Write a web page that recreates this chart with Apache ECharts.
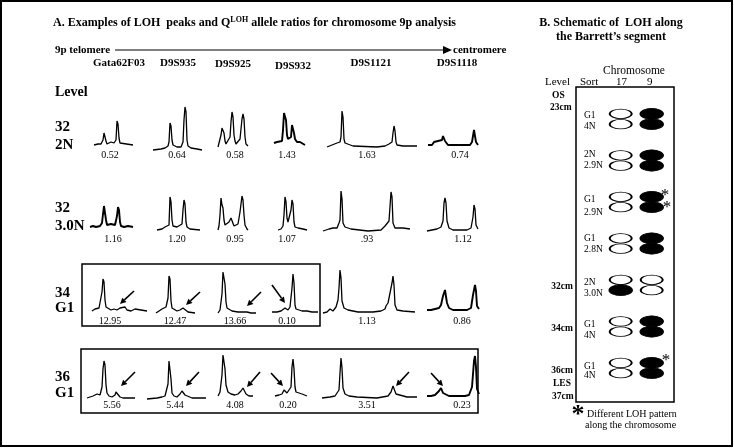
<!DOCTYPE html>
<html>
<head>
<meta charset="utf-8">
<script src="https://cdn.jsdelivr.net/npm/echarts@6/dist/echarts.min.js"></script>
<style>
html, body { margin: 0; padding: 0; background: #fff; }
#main { width: 734px; height: 448px; }
</style>
</head>
<body>
<div id="main"></div>
<script>
// markers along 9p, telomere -> centromere
var markers = ['Gata62F03', 'D9S935', 'D9S925', 'D9S932', 'D9S1121', 'D9S1118'];
var levels = [['32', '2N'], ['32', '3.0N'], ['34', 'G1'], ['36', 'G1']];

// Q(LOH) allele ratios printed under each trace
var ratios32_2N = ['0.52', '0.64', '0.58', '1.43', '1.63', '0.74'];
var ratios32_30N = ['1.16', '1.20', '0.95', '1.07', '.93', '1.12'];
var ratios34_G1 = ['12.95', '12.47', '13.66', '0.10', '1.13', '0.86'];
var ratios36_G1 = ['5.56', '5.44', '4.08', '0.20', '3.51', '0.23'];

// peak traces, [scan position, signal]
var peaks32_2N = [
  [[0,1],[4,2],[7,2],[9,6],[10,13],[11,12],[12,5],[13,2],[15,2],[17,4],[18,2],[20,3],[22,6],[23,25],[24,22],[25,8],[26,3],[28,1],[39,1]],
  [[0,0],[8,1],[12,2],[15,4],[16,8],[17,27],[18,24],[19,10],[20,5],[22,7],[24,3],[26,5],[28,3],[30,8],[31,30],[32,43],[33,38],[34,10],[35,4],[38,2],[44,1],[49,0]],
  [[0,0],[1,2],[3,12],[4,19],[5,17],[6,14],[7,6],[8,3],[10,4],[12,10],[13,25],[14,35],[15,30],[16,12],[17,6],[18,3],[20,3],[22,8],[24,28],[25,33],[26,28],[27,10],[28,3],[30,1]],
  [[0,2],[3,3],[5,2],[8,4],[9,15],[10,32],[11,30],[12,25],[13,10],[14,6],[15,5],[17,8],[18,20],[19,21],[20,12],[21,6],[23,3],[26,3],[28,1],[31,0]],
  [[0,0],[5,2],[10,4],[12,3],[13,5],[14,10],[15,36],[16,30],[17,8],[18,4],[20,2],[26,1],[50,0],[58,1],[62,3],[64,2],[65,5],[66,14],[67,21],[68,16],[69,5],[70,2],[76,1],[90,1]],
  [[0,1],[2,3],[4,1],[6,4],[8,2],[10,5],[12,3],[14,6],[15,10],[16,9],[17,5],[18,3],[20,1],[34,1],[42,1],[44,4],[46,16],[47,14],[48,4],[50,1]]
];
var peaks32_30N = [
  [[0,1],[3,2],[6,1],[8,3],[10,2],[12,5],[13,14],[14,22],[15,20],[16,8],[17,3],[19,2],[21,4],[23,2],[25,3],[27,12],[28,21],[29,18],[30,6],[31,2],[34,1],[38,2],[43,1]],
  [[0,0],[5,1],[8,3],[10,2],[12,5],[13,33],[14,28],[15,10],[16,4],[18,6],[20,3],[22,4],[25,6],[26,20],[27,30],[28,26],[29,8],[30,3],[33,1],[43,0]],
  [[0,0],[1,4],[2,15],[3,32],[4,25],[5,22],[6,10],[7,5],[9,4],[11,8],[13,12],[14,10],[16,4],[18,3],[20,6],[22,18],[24,34],[25,30],[26,15],[27,5],[29,1],[30,0]],
  [[0,0],[3,1],[5,4],[6,15],[7,33],[8,28],[9,12],[10,8],[11,10],[13,20],[14,30],[15,26],[16,8],[17,3],[20,2],[25,1],[29,0]],
  [[0,0],[6,2],[10,3],[14,3],[16,8],[17,11],[18,40],[19,32],[20,8],[22,4],[28,2],[45,0],[58,1],[62,5],[64,3],[66,10],[68,39],[69,34],[70,8],[72,3],[80,3],[87,2]],
  [[0,0],[5,1],[10,2],[14,4],[16,10],[17,28],[18,33],[19,28],[20,10],[22,3],[26,1],[40,1],[44,3],[46,14],[47,26],[48,22],[49,6],[51,2]]
];
var peaks34_G1 = [
  [[0,1],[3,3],[5,2],[7,4],[9,6],[10,20],[11,33],[12,30],[13,12],[14,5],[16,3],[19,2],[22,3],[25,2],[28,4],[30,2],[33,5],[35,2],[39,1],[43,3],[45,1],[55,1]],
  [[0,0],[3,2],[6,4],[8,3],[10,6],[12,15],[13,37],[14,34],[15,12],[16,5],[18,4],[21,2],[24,3],[27,5],[29,3],[32,1],[39,0]],
  [[0,1],[2,4],[4,20],[5,42],[6,40],[7,30],[8,12],[9,6],[11,4],[14,3],[20,2],[25,2],[27,3],[29,2],[33,1],[38,1]],
  [[0,1],[5,1],[9,2],[11,3],[13,5],[14,3],[16,3],[18,6],[20,25],[21,39],[22,30],[23,8],[24,4],[26,3],[30,2],[35,2],[40,1],[46,1]],
  [[0,0],[4,1],[7,4],[10,2],[13,6],[15,13],[16,25],[17,43],[18,35],[19,12],[21,5],[25,3],[35,1],[50,1],[58,2],[62,4],[63,7],[64,5],[65,10],[69,30],[70,37],[71,28],[72,8],[74,3],[80,2],[92,1]],
  [[0,1],[4,1],[8,2],[12,3],[14,6],[16,15],[18,21],[19,19],[20,8],[22,3],[26,1],[40,1],[44,3],[46,16],[48,26],[49,20],[50,5],[52,2]]
];
var peaks36_G1 = [
  [[0,1],[3,2],[6,3],[8,2],[10,5],[13,4],[15,12],[16,30],[17,38],[18,34],[19,14],[20,6],[22,3],[25,2],[28,4],[29,7],[30,8],[31,6],[33,2],[36,1],[48,1]],
  [[0,0],[10,1],[15,2],[18,3],[20,5],[21,15],[22,38],[23,40],[24,20],[25,6],[27,3],[30,2],[33,5],[35,8],[36,8],[38,4],[40,2],[45,1],[59,1]],
  [[0,1],[2,5],[4,22],[5,42],[6,40],[7,28],[8,12],[10,5],[13,3],[17,2],[20,3],[23,6],[25,9],[26,8],[28,3],[31,1],[35,1]],
  [[0,1],[4,2],[7,3],[9,7],[10,9],[11,8],[12,4],[14,4],[16,10],[17,30],[18,38],[19,28],[20,10],[21,5],[23,4],[27,3],[32,1]],
  [[0,0],[8,1],[13,2],[15,4],[17,8],[18,25],[19,40],[20,30],[21,10],[23,4],[27,2],[35,1],[55,0],[66,2],[69,6],[71,12],[72,11],[74,4],[76,2],[85,1],[95,1]],
  [[0,1],[4,1],[8,2],[10,4],[12,6],[14,9],[15,8],[16,4],[18,2],[22,1],[38,1],[42,2],[45,10],[47,36],[48,41],[49,30],[50,8],[52,3]]
];

// panel B: sort fractions and allele state (0 = retained, 1 = lost)
var sortLabels = [['G1', '4N'], ['2N', '2.9N'], ['G1', '2.9N'], ['G1', '2.8N'], ['2N', '3.0N'], ['G1', '4N'], ['G1', '4N']];
var chrom17 = [[0, 0], [0, 0], [0, 0], [0, 0], [0, 1], [0, 0], [0, 0]];
var chrom9 = [[1, 1], [1, 1], [1, 1], [1, 1], [0, 0], [1, 1], [1, 1]];
var chrom9Diff = [[0, 0], [0, 0], [1, 1], [0, 0], [0, 0], [0, 0], [1, 0]];

var ratioRows = [ratios32_2N, ratios32_30N, ratios34_G1, ratios36_G1];
var peakRows = [peaks32_2N, peaks32_30N, peaks34_G1, peaks36_G1];

// layout (pixels)
var traceLeft = [[94, 153, 218, 274, 327, 428], [90, 157, 218, 278, 323, 427], [92, 156, 218, 272, 323, 427], [87, 147, 218, 275, 322, 427]];
var traceBase = [[146, 150, 147, 145, 147, 146], [228, 230, 230, 230, 231, 231], [312, 313, 314, 313, 313, 311], [399, 399, 397, 397, 398, 397]];
var ratioX = [[110, 177, 235, 287, 367, 460], [113, 177, 235, 287, 367, 463], [110, 175, 235, 287, 367, 462], [112, 175, 235, 288, 367, 462]];
var ratioY = [155, 239, 321, 405];
var levelY = [[127, 145], [208, 226], [293, 308], [377, 393]];
var thick = { '0-3': 1, '0-5': 1, '1-0': 1, '2-5': 1, '3-5': 1 };
var FONT = 'Liberation Serif';

var chart = echarts.init(document.getElementById('main'));

function txt(s, x, y, size, bold, align) {
  return {
    type: 'text', silent: true,
    style: {
      text: s, x: x, y: y, fill: '#000',
      fontFamily: FONT, fontSize: size, fontWeight: bold ? 'bold' : 'normal',
      textAlign: align || 'left', textVerticalAlign: 'middle'
    }
  };
}

function arrow(x1, y1, x2, y2, w) {
  var dx = x2 - x1, dy = y2 - y1;
  var len = Math.sqrt(dx * dx + dy * dy);
  var ux = dx / len, uy = dy / len;
  var hl = 6, hw = 3;
  var bx = x2 - ux * hl, by = y2 - uy * hl;
  return [
    { type: 'line', silent: true, shape: { x1: x1, y1: y1, x2: bx, y2: by }, style: { stroke: '#000', lineWidth: w || 1.6 } },
    { type: 'polygon', silent: true, shape: { points: [[x2, y2], [bx - uy * hw, by + ux * hw], [bx + uy * hw, by - ux * hw]] }, style: { fill: '#000' } }
  ];
}

var grids = [], xAxes = [], yAxes = [], series = [];
var H = 46;

for (var r = 0; r < peakRows.length; r++) {
  for (var c = 0; c < markers.length; c++) {
    var pts = peakRows[r][c];
    var w = pts[pts.length - 1][0];
    var idx = grids.length;
    grids.push({ left: traceLeft[r][c], top: traceBase[r][c] - H, width: w, height: H });
    xAxes.push({ gridIndex: idx, type: 'value', min: 0, max: w, show: false });
    yAxes.push({ gridIndex: idx, type: 'value', min: 0, max: H, show: false });
    series.push({
      type: 'line', xAxisIndex: idx, yAxisIndex: idx,
      data: pts, showSymbol: false, clip: false, silent: true,
      lineStyle: { color: '#000', width: thick[r + '-' + c] ? 1.9 : 1.3 }
    });
  }
}

// panel B ellipses
var bIdx = grids.length;
grids.push({ left: 576, top: 87, width: 98, height: 315, show: true, borderColor: '#000', borderWidth: 1.5, backgroundColor: 'transparent' });
xAxes.push({ gridIndex: bIdx, type: 'value', min: -1.442, max: 1.719, show: false });
yAxes.push({ gridIndex: bIdx, type: 'value', min: -0.771, max: 6.819, inverse: true, show: false });

var ellipses = [];
[chrom17, chrom9].forEach(function (chrom, ci) {
  chrom.forEach(function (pair, row) {
    pair.forEach(function (lost, a) {
      ellipses.push({
        value: [ci, row + (a === 0 ? -0.125 : 0.125)],
        symbolSize: lost ? [23, 11] : [22, 9.5],
        itemStyle: lost
          ? { color: '#000', borderColor: '#000', borderWidth: 1, opacity: 1 }
          : { color: '#fff', borderColor: '#000', borderWidth: 1.3, opacity: 1 }
      });
    });
  });
});
series.push({
  type: 'scatter', xAxisIndex: bIdx, yAxisIndex: bIdx, symbol: 'circle',
  data: ellipses, silent: true, z: 3, itemStyle: { opacity: 1 }
});

var g = [];
// outer frame
g.push({ type: 'rect', silent: true, shape: { x: 1, y: 1, width: 731, height: 445 }, style: { fill: 'none', stroke: '#000', lineWidth: 2 } });

// panel A header
g.push({
  type: 'text', silent: true,
  style: {
    text: 'A. Examples of LOH  peaks and Q{sup|LOH} allele ratios for chromosome 9p analysis',
    x: 53, y: 23, fill: '#000', fontFamily: FONT, fontSize: 12, fontWeight: 'bold',
    textVerticalAlign: 'middle', lineHeight: 14,
    rich: { sup: { fontFamily: FONT, fontSize: 8, fontWeight: 'bold', lineHeight: 9, verticalAlign: 'top' } }
  }
});
g.push(txt('9p telomere', 55, 50, 11, true));
g.push({ type: 'line', silent: true, shape: { x1: 115, y1: 50, x2: 444, y2: 50 }, style: { stroke: '#000', lineWidth: 1 } });
g.push({ type: 'polygon', silent: true, shape: { points: [[443, 46], [452, 50], [443, 54]] }, style: { fill: '#000' } });
g.push(txt('centromere', 453, 50, 11, true));

var markerX = [119, 178, 233, 293, 371, 457];
var markerY = [63, 63, 64, 66, 63, 63];
markers.forEach(function (m, i) { g.push(txt(m, markerX[i], markerY[i], 11, true, 'center')); });

g.push(txt('Level', 55, 92, 14, true));
levels.forEach(function (lv, r) {
  g.push(txt(lv[0], 55, levelY[r][0], 15, true));
  g.push(txt(lv[1], 55, levelY[r][1], 15, true));
});

ratioRows.forEach(function (row, r) {
  row.forEach(function (s, c) { g.push(txt(s, ratioX[r][c], ratioY[r], 10, false, 'center')); });
});

// LOH boxes
g.push({ type: 'rect', silent: true, shape: { x: 82, y: 264, width: 238, height: 62 }, style: { fill: 'none', stroke: '#000', lineWidth: 1.5 } });
g.push({ type: 'rect', silent: true, shape: { x: 81, y: 349, width: 397, height: 64 }, style: { fill: 'none', stroke: '#000', lineWidth: 1.5 } });

// arrows to the lost allele
[[134, 291, 120, 304], [200, 292, 186, 305], [261, 292, 247, 306], [272, 285, 285, 303],
 [135, 372, 121, 386], [199, 372, 186, 386], [260, 372, 247, 387], [271, 373, 283, 386],
 [409, 372, 396, 386], [431, 373, 443, 386]].forEach(function (a) {
  g = g.concat(arrow(a[0], a[1], a[2], a[3]));
});

// panel B text
g.push(txt('B. Schematic of  LOH along', 611, 23, 12, true, 'center'));
g.push(txt('the Barrett\u2019s segment', 611, 37, 12, true, 'center'));
g.push(txt('Chromosome', 603, 71, 11.5, false));
g.push(txt('Level', 545, 82, 11, false));
g.push(txt('Sort', 580, 82, 11, false));
g.push(txt('17', 616, 82, 11, false));
g.push(txt('9', 647, 82, 11, false));
g.push(txt('OS', 552, 96, 9.5, true));
g.push(txt('23cm', 550, 108, 9.5, true));
g.push(txt('32cm', 573, 287, 9.5, true, 'right'));
g.push(txt('34cm', 573, 329, 9.5, true, 'right'));
g.push(txt('36cm', 573, 371, 9.5, true, 'right'));
g.push(txt('LES', 553, 384, 9.5, true));
g.push(txt('37cm', 552, 397, 9.5, true));

var sortY = [[115, 126], [154, 165], [199, 212], [238, 249], [282, 293], [324, 335], [366, 375]];
sortLabels.forEach(function (s, i) {
  g.push(txt(s[0], 584, sortY[i][0], 9.5, false));
  g.push(txt(s[1], 584, sortY[i][1], 9.5, false));
});

// asterisks: different LOH pattern along chromosome 9
var starPos = [[[665, 196], [667, 208]], [[666, 361]]];
chrom9Diff.forEach(function (pair, row) {
  pair.forEach(function (d, a) {
    if (!d) return;
    var p = row === 2 ? starPos[0][a] : starPos[1][0];
    g.push(txt('*', p[0], p[1], 17, false, 'center'));
  });
});
g.push(txt('*', 578, 415, 26, true, 'center'));
g.push(txt('Different LOH pattern', 587, 414, 10, false));
g.push(txt('along the chromosome', 585, 425, 10, false));

chart.setOption({
  animation: false,
  backgroundColor: '#fff',
  grid: grids,
  xAxis: xAxes,
  yAxis: yAxes,
  series: series,
  graphic: { elements: g }
});
</script>
</body>
</html>
